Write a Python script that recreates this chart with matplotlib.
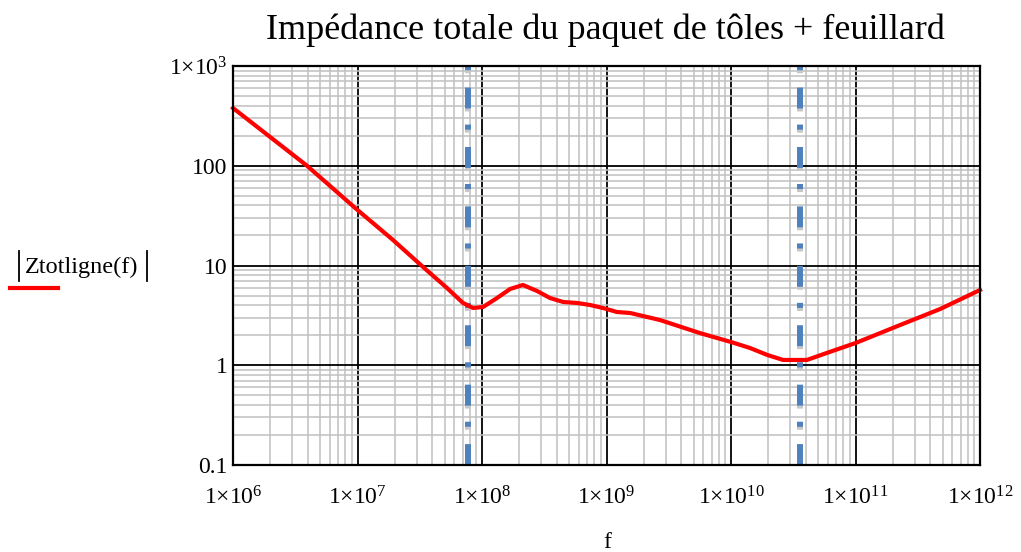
import matplotlib
matplotlib.use("Agg")
import matplotlib.pyplot as plt
import matplotlib.transforms as mtransforms
from matplotlib.lines import Line2D
from matplotlib.ticker import LogLocator, FixedLocator, NullFormatter

plt.rcParams['font.family'] = ['Liberation Serif', 'DejaVu Serif']
plt.rcParams['mathtext.fontset'] = 'custom'
plt.rcParams['mathtext.rm'] = 'Liberation Serif'
plt.rcParams['mathtext.it'] = 'Liberation Serif:italic'

# |Ztotligne(f)| (log-log)
freq = [1.0e6, 3.93e6, 1.0e7, 1.93e7, 3.36e7, 5.24e7, 7.04e7, 8.47e7, 1.02e8, 1.32e8,
        1.68e8, 2.13e8, 2.77e8, 3.52e8, 4.48e8, 5.8e8, 7.37e8, 9.37e8, 1.21e9, 1.55e9,
        2.69e9, 5.64e9, 1.0e10, 1.42e10, 1.95e10, 2.62e10, 4.07e10, 5.9e10, 1.0e11,
        2.28e11, 4.78e11, 1.0e12]
z_tot = [379, 100, 36, 18.0, 9.66, 5.94, 4.21, 3.75, 3.84, 4.72,
         5.81, 6.38, 5.55, 4.72, 4.31, 4.21, 4.02, 3.75, 3.42, 3.34,
         2.84, 2.10, 1.71, 1.49, 1.27, 1.13, 1.13, 1.33, 1.67,
         2.53, 3.66, 5.68]

# resonance markers
f_markers = [7.7e7, 3.6e10]

x_ticks = [1e6, 1e7, 1e8, 1e9, 1e10, 1e11, 1e12]
x_labels = [r'$1{\times}10^{6}$', r'$1{\times}10^{7}$', r'$1{\times}10^{8}$', r'$1{\times}10^{9}$',
            r'$1{\times}10^{10}$', r'$1{\times}10^{11}$', r'$1{\times}10^{12}$']
y_ticks = [0.1, 1, 10, 100, 1000]
y_labels = ['0.1', '1', '10', '100', r'$1{\times}10^{3}$']

W, H = 1021, 552
fig = plt.figure(figsize=(W / 100, H / 100), dpi=100, facecolor='white')
ax = fig.add_axes([233 / W, 1 - 465 / H, (980 - 233) / W, (465 - 66) / H])

ax.set_xscale('log')
ax.set_yscale('log')
ax.set_xlim(1e6, 1e12)
ax.set_ylim(0.1, 1000)

ax.xaxis.set_major_locator(FixedLocator(x_ticks))
ax.yaxis.set_major_locator(FixedLocator(y_ticks))
ax.xaxis.set_minor_locator(LogLocator(base=10, subs=range(2, 10), numticks=50))
ax.yaxis.set_minor_locator(LogLocator(base=10, subs=range(2, 10), numticks=50))
ax.xaxis.set_minor_formatter(NullFormatter())
ax.yaxis.set_minor_formatter(NullFormatter())
ax.set_xticklabels(x_labels, fontsize=17)
ax.set_yticklabels(y_labels, fontsize=17)
ax.tick_params(which='both', length=0)
ax.tick_params(axis='x', pad=15)
ax.tick_params(axis='y', pad=4)

ax.grid(which='minor', color='#c0c0c0', linewidth=1.1)
ax.grid(which='major', color='black', linewidth=1.3)
ax.set_axisbelow(True)
for sp in ax.spines.values():
    sp.set_linewidth(1.6)
    sp.set_zorder(5)

# vertical dash-dot markers with grey shadow
dash = (3.5, 2.9, 0.85, 2.7)
offset = mtransforms.ScaledTranslation(0, -2.5 / 100, fig.dpi_scale_trans)
for fm in f_markers:
    sh = ax.axvline(fm, color='#c8c8c8', linewidth=4.3, dashes=dash,
                    dash_capstyle='butt', zorder=3)
    sh.set_transform(sh.get_transform() + offset)
    ax.axvline(fm, color='#4f81bd', linewidth=4.3, dashes=dash,
               dash_capstyle='butt', zorder=3)

ax.plot(freq, z_tot, color='red', linewidth=3, zorder=4, clip_on=False,
        solid_joinstyle='round')

fig.text(605 / W, 1 - 30 / H, 'Impédance totale du paquet de tôles + feuillard',
         fontsize=26, ha='center', va='center')
fig.text(607 / W, 1 - 543 / H, 'f', fontsize=17, ha='center', va='center')

# y label with legend line
fig.text(25 / W, 1 - 267 / H, 'Ztotligne(f)', fontsize=17.5, ha='left', va='center')
for xb in (19, 147):
    fig.add_artist(Line2D([xb / W, xb / W], [1 - 251 / H, 1 - 281 / H], color='black',
                          linewidth=1.3, transform=fig.transFigure))
fig.add_artist(Line2D([10 / W, 58 / W], [1 - 288 / H, 1 - 288 / H], color='red',
                      linewidth=3, transform=fig.transFigure))

fig.savefig('out.png', dpi=100)
